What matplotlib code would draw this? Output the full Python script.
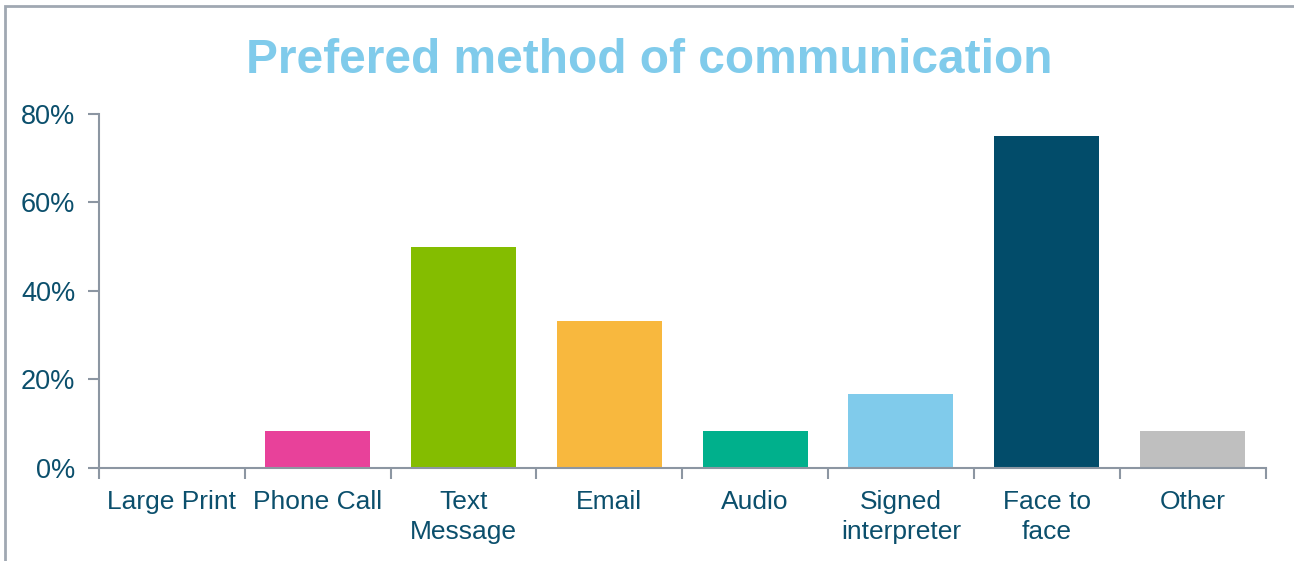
import numpy as np
import matplotlib.pyplot as plt
from matplotlib.patches import Rectangle
from matplotlib.ticker import FuncFormatter

# survey results, share of respondents (%)
categories = ['Large Print', 'Phone Call', 'Text\nMessage', 'Email', 'Audio',
              'Signed\ninterpreter', 'Face to\nface', 'Other']
values = [0, 8.33, 50, 33.33, 8.33, 16.67, 75, 8.33]
colors = ['#4F81BD', '#E8419A', '#84BD00', '#F8B83E', '#00B08C',
          '#80CBEB', '#024C6A', '#BFBFBF']

text_col = '#0B4F6C'
axis_col = '#8C96A2'

plt.rcParams['font.family'] = ['Liberation Sans', 'DejaVu Sans']

fig = plt.figure(figsize=(12.94, 5.61), dpi=100)
ax = fig.add_axes([0.0765, 0.1658, 0.9015, 0.631])

x = np.arange(len(categories))
ax.bar(x, values, width=0.72, color=colors)

ax.set_xlim(-0.5, len(categories) - 0.5)
ax.set_ylim(0, 80)
ax.set_yticks([0, 20, 40, 60, 80])
ax.yaxis.set_major_formatter(FuncFormatter(lambda v, p: f'{v:.0f}%'))

# category labels centred, tick marks on the boundaries
ax.set_xticks(x)
ax.set_xticklabels(categories, fontsize=19, color=text_col, linespacing=1.32)
ax.tick_params(axis='x', which='major', length=0, pad=16)
ax.set_xticks(np.arange(-0.5, len(categories)), minor=True)
ax.tick_params(axis='x', which='minor', length=8, width=1.5, color=axis_col,
               direction='out')
ax.tick_params(axis='y', length=8, width=1.5, color=axis_col, labelsize=19.5,
               labelcolor=text_col, pad=9)

for side in ['top', 'right']:
    ax.spines[side].set_visible(False)
for side in ['left', 'bottom']:
    ax.spines[side].set_color(axis_col)
    ax.spines[side].set_linewidth(1.5)

fig.text(0.502, 0.893, 'Prefered method of communication', ha='center',
         va='center', fontsize=34.5, fontweight='bold', color='#80CBEB')

# outer chart frame (runs off the right and bottom edges)
fig.patches.append(Rectangle((0.004, -0.1), 1.1, 1.09, transform=fig.transFigure,
                             fill=False, edgecolor='#A0A8B2', linewidth=2))

fig.savefig('out.png', dpi=100)
